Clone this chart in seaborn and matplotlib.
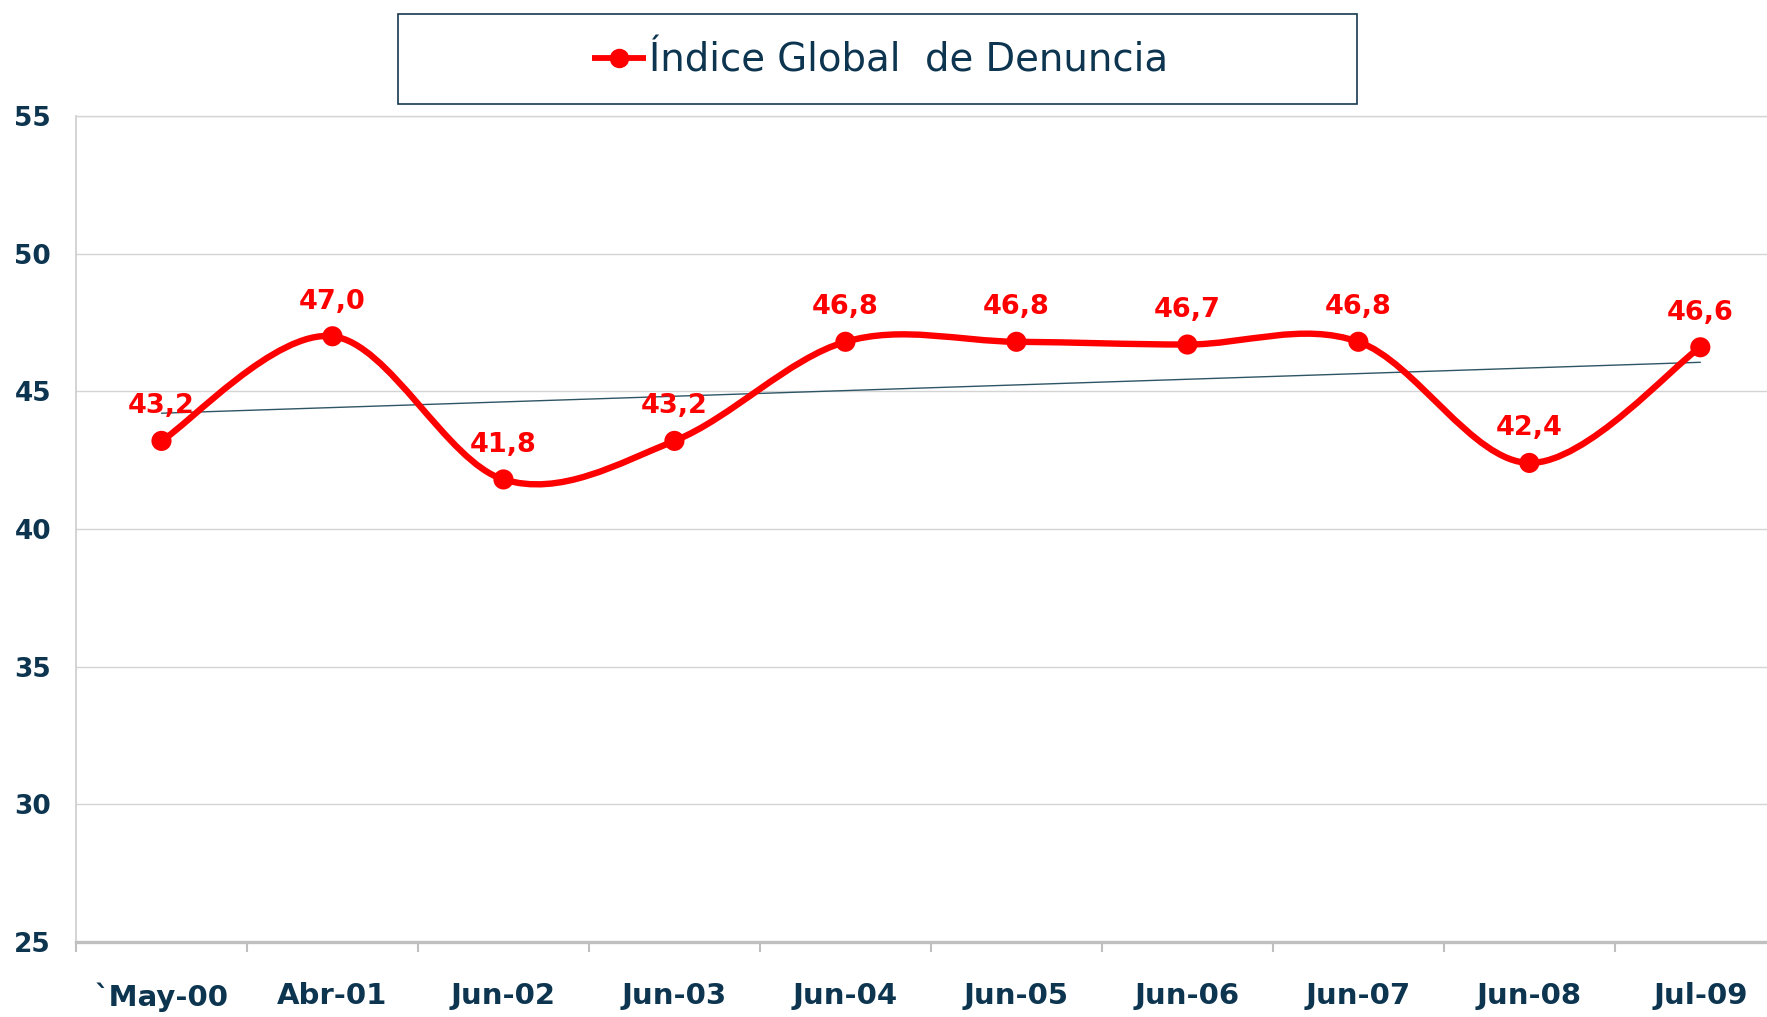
import numpy as np
import pandas as pd
import matplotlib
matplotlib.use("Agg")
import matplotlib.pyplot as plt
from matplotlib.path import Path
from matplotlib.patches import PathPatch, Rectangle
from matplotlib.lines import Line2D
import seaborn as sns

# data
periods = ["`May-00", "Abr-01", "Jun-02", "Jun-03", "Jun-04",
           "Jun-05", "Jun-06", "Jun-07", "Jun-08", "Jul-09"]
indice = [43.2, 47.0, 41.8, 43.2, 46.8, 46.8, 46.7, 46.8, 42.4, 46.6]
y_ticks = [25, 30, 35, 40, 45, 50, 55]
serie_name = "Índice Global  de Denuncia"

RED = "#ff0000"
NAVY = "#0d3550"

df = pd.DataFrame({"pos": np.arange(len(periods)), "valor": indice})

sns.set_theme(style="white")
plt.rcParams["font.family"] = ["DejaVu Sans"]

fig = plt.figure(figsize=(17.67, 10.17), dpi=100)
ax = fig.add_axes([76 / 1767, 75 / 1017, 1 - 76 / 1767, (942 - 116) / 1017])

# linear trend line (like Excel's trendline)
sns.regplot(data=df, x="pos", y="valor", ax=ax, scatter=False, ci=None,
            color="#2e5566", line_kws={"linewidth": 1.0, "zorder": 2})

# smoothed line (Excel style bezier through the points)
pts = np.column_stack([df["pos"], df["valor"]])
verts = [tuple(pts[0])]
codes = [Path.MOVETO]
n = len(pts)
for i in range(n - 1):
    p0 = pts[i - 1] if i > 0 else pts[i]
    p1 = pts[i]
    p2 = pts[i + 1]
    p3 = pts[i + 2] if i + 2 < n else pts[i + 1]
    c1 = p1 + (p2 - p0) / 6.0
    c2 = p2 - (p3 - p1) / 6.0
    verts += [tuple(c1), tuple(c2), tuple(p2)]
    codes += [Path.CURVE4] * 3
ax.add_patch(PathPatch(Path(verts, codes), facecolor="none", edgecolor=RED,
                       linewidth=4.6, zorder=3, capstyle="round"))

sns.scatterplot(data=df, x="pos", y="valor", ax=ax, color=RED, s=210,
                edgecolor="none", zorder=4, legend=False)

for x, v in zip(df["pos"], df["valor"]):
    ax.annotate(f"{v:.1f}".replace(".", ","), (x, v), xytext=(0, 25),
                textcoords="offset points", ha="center", va="center",
                color=RED, fontsize=19.5, fontweight="bold")

ax.set_yticks(y_ticks)
ax.set_yticklabels([str(t) for t in y_ticks], fontsize=19, fontweight="bold",
                   color=NAVY)
ax.set_xticks(range(len(periods)))
ax.set_xticklabels(periods, fontsize=21, fontweight="bold", color=NAVY,
                   family=["Liberation Sans Narrow", "DejaVu Sans"])
ax.set_xticks(np.arange(-0.5, len(periods), 1.0), minor=True)
ax.set_ylim(25, 55)
ax.set_xlim(-0.5, 9.39)
ax.tick_params(axis="x", which="major", length=0, pad=29)
ax.tick_params(axis="x", which="minor", length=7, width=1.5, color="#bfbfbf",
               direction="out", bottom=True)
ax.tick_params(axis="y", length=0, pad=18)
ax.set_xlabel("")
ax.set_ylabel("")

ax.grid(axis="y", color="#d4d4d4", linewidth=1.0)
ax.set_axisbelow(True)
ax.spines["right"].set_visible(False)
ax.spines["top"].set_color("#d4d4d4")
ax.spines["top"].set_linewidth(1.0)
ax.spines["left"].set_color("#cccccc")
ax.spines["left"].set_linewidth(1.2)
ax.spines["bottom"].set_color("#c0c0c0")
ax.spines["bottom"].set_linewidth(2.4)

# legend box at the top
fig.add_artist(Rectangle((398 / 1767, (1017 - 104) / 1017), 959 / 1767, 90 / 1017,
                         transform=fig.transFigure, facecolor="white",
                         edgecolor="#17394f", linewidth=1.2))
ly = (1017 - 58) / 1017
fig.add_artist(Line2D([592 / 1767, 646 / 1767], [ly, ly], transform=fig.transFigure,
                      color=RED, linewidth=4.2, solid_capstyle="butt"))
fig.add_artist(Line2D([619 / 1767], [ly], transform=fig.transFigure,
                      color=RED, marker="o", markersize=13, linestyle="none"))
fig.text(649 / 1767, (1017 - 60) / 1017, serie_name, ha="left", va="center",
         fontsize=27.8, color=NAVY)

fig.savefig("out.png", dpi=100)
